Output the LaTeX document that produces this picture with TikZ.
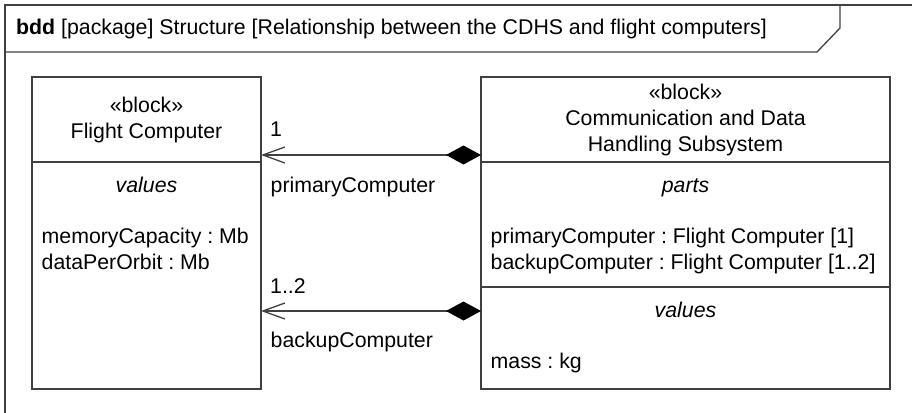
\documentclass[tikz,border=0pt]{standalone}
\usepackage{fontspec}
\setmainfont{Liberation Sans}
\usetikzlibrary{shapes,arrows.meta,positioning,calc}
\usepackage{xcolor}

\begin{document}
\frenchspacing
\begin{tikzpicture}[x=1pt, y=-1pt, every node/.style={font=\fontsize{21.3}{26}\selectfont}]
    \tikzstyle{frame} = [draw=black!75, line width=1.3pt]
    \tikzstyle{compartment} = [rectangle, draw=black!75, line width=1.3pt, inner sep=0pt, outer sep=0pt]
    \tikzstyle{heading} = [font=\fontsize{21.3}{26}\selectfont\itshape, anchor=base]
    \tikzstyle{entries} = [align=left, anchor=north west, inner sep=0pt]
    \tikzstyle{role} = [anchor=base west, inner sep=0pt]
    \tikzstyle{composition} = [line width=1.6pt, draw=black!75, {Diamond[length=35pt, width=19pt, color=black]}-{Straight Barb[length=22pt, width=16pt, line width=1.3pt]}]

    \useasboundingbox (0,0) rectangle (912,412);

    % frame with its name tab
    \draw[frame] (5,5) rectangle (916,416);
    \draw[frame] (5,52) -- (817,52) -- (840,28) -- (840,5);
    \node[anchor=base west, inner sep=0pt] (title) at (16,35) {\textbf{bdd} [package] Structure [Relationship between the CDHS and flight computers]};

    % Flight Computer block
    \node[compartment, minimum width=229, minimum height=85, anchor=north west, align=center] (fchead) at (32,77) {«block»\\Flight Computer};
    \node[compartment, minimum width=229, minimum height=227, below=0pt of fchead] (fcvalues) {};
    \node[heading] (fcvaluestitle) at ([yshift=-30pt]fcvalues.north) {values};
    \node[entries] (fcvalueslist) at ([xshift=9.5pt, yshift=-66pt]fcvalues.north west) {memoryCapacity : Mb\\dataPerOrbit : Mb};

    % CDHS block
    \node[compartment, minimum width=409, minimum height=85, anchor=north west, align=center] (cdhshead) at (481,77) {«block»\\Communication and Data\\Handling Subsystem};
    \node[compartment, minimum width=409, minimum height=125, below=0pt of cdhshead] (cdhsparts) {};
    \node[compartment, minimum width=409, minimum height=102, below=0pt of cdhsparts] (cdhsvalues) {};
    \node[heading] (cdhspartstitle) at ([yshift=-30pt]cdhsparts.north) {parts};
    \node[entries] (cdhspartslist) at ([xshift=9.5pt, yshift=-66pt]cdhsparts.north west) {primaryComputer : Flight Computer [1]\\backupComputer : Flight Computer [1..2]};
    \node[heading] (cdhsvaluestitle) at ([yshift=-30pt]cdhsvalues.north) {values};
    \node[entries] (cdhsvalueslist) at ([xshift=9.5pt, yshift=-66pt]cdhsvalues.north west) {mass : kg};

    % composite associations
    \coordinate (primarystart) at ([yshift=7pt]cdhshead.south west);
    \coordinate (primaryend) at ([yshift=7pt]fchead.south east);
    \coordinate (backupstart) at ([yshift=-24pt]cdhsvalues.north west);
    \coordinate (backupend) at (backupstart -| fcvalues.east);
    \draw[composition] (primarystart) -- (primaryend);
    \draw[composition] (backupstart) -- (backupend);

    \node[role] (primarymult) at ([xshift=9pt, yshift=19pt]primaryend) {1};
    \node[role] (primaryrole) at ([xshift=9.5pt, yshift=-37pt]primaryend) {primaryComputer};
    \node[role] (backupmult) at ([xshift=9pt, yshift=18pt]backupend) {1..2};
    \node[role] (backuprole) at ([xshift=9.5pt, yshift=-36pt]backupend) {backupComputer};
\end{tikzpicture}
\end{document}
